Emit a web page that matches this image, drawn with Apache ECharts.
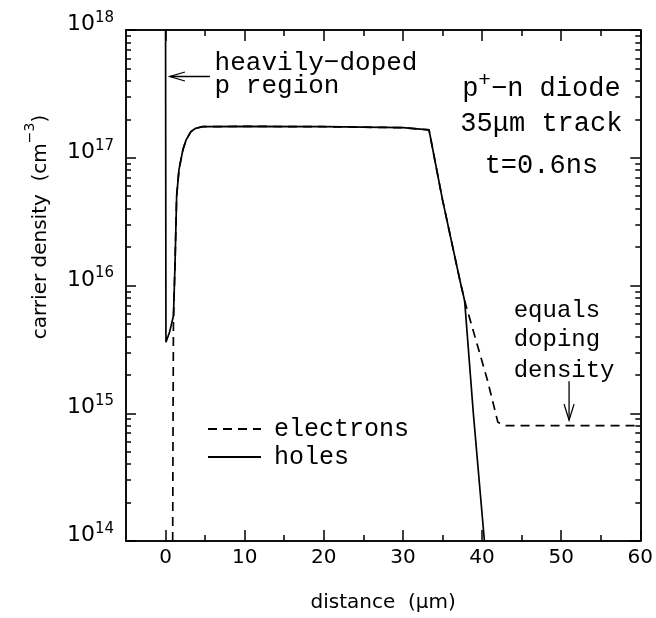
<!DOCTYPE html>
<html>
<head>
<meta charset="utf-8">
<script src="https://cdn.jsdelivr.net/npm/echarts@6/dist/echarts.min.js"></script>
<style>
  html, body { margin: 0; padding: 0; background: #fff; }
  #main { width: 656px; height: 618px; }
</style>
</head>
<body>
<div id="main"></div>
<script>
// holes (solid) - distance in um, density in cm^-3
var holeX = [0, 0.05, 0.5, 1.0, 1.2, 1.4, 1.7, 2.2, 2.6, 3.2, 3.8, 4.7, 10, 20, 30, 33.3, 35.0, 37.2, 37.8, 38.9, 40.3];
var holeY = [1e18, 3.6e15, 4.3e15, 5.8e15, 1.5e16, 5e16, 8.1e16, 1.16e17, 1.38e17, 1.6e17, 1.7e17, 1.75e17, 1.76e17, 1.75e17, 1.72e17, 1.65e17, 4.7e16, 1.1e16, 7.6e15, 1e15, 1e14];
// electrons (dashed)
var elecX = [0.9, 0.95, 1.0, 1.2, 1.4, 1.7, 2.2, 2.6, 3.2, 3.8, 4.7, 10, 20, 30, 33.3, 35.0, 37.2, 37.8, 40.7, 42.0, 43, 50, 60];
var elecY = [1e14, 1e15, 5.5e15, 1.5e16, 5e16, 8.1e16, 1.16e17, 1.38e17, 1.6e17, 1.7e17, 1.75e17, 1.76e17, 1.75e17, 1.72e17, 1.65e17, 4.7e16, 1.1e16, 7.6e15, 1.8e15, 8.5e14, 8e14, 8e14, 8e14];

// ticks
var xMajorTicks = [0, 10, 20, 30, 40, 50, 60];
var xMinorTicks = [5, 15, 25, 35, 45, 55];
var yDecades = [14, 15, 16, 17, 18];
var yMinorTicks = [];
yDecades.slice(0, -1).forEach(function (d) {
  for (var k = 2; k <= 9; k++) yMinorTicks.push(d + Math.log10(k));
});

var mono = '"Liberation Mono", monospace';
var sans = '"DejaVu Sans", sans-serif';

function zip(xs, ys) {
  return xs.map(function (x, i) { return [x, ys[i]]; });
}

var tickLine = { color: '#000', width: 1.5 };
var axLine = { show: true, onZero: false, lineStyle: { color: '#000', width: 1.5 } };

// x axis helper - ticks, labels optional
function xAx(pos, ticks, len, labels) {
  return {
    type: 'value', position: pos, min: -5, max: 60,
    axisLine: axLine,
    splitLine: { show: false },
    axisTick: { show: true, inside: true, length: len, customValues: ticks, lineStyle: tickLine },
    axisLabel: labels ? {
      show: true, customValues: ticks, margin: 7,
      color: '#000', fontFamily: sans, fontSize: 20
    } : { show: false },
    name: labels ? 'distance  (\u03bcm)' : '',
    nameLocation: 'middle', nameGap: 52,
    nameTextStyle: { color: '#000', fontFamily: sans, fontSize: 20 }
  };
}

// y minor ticks live on a plain value axis in log10 units
function yMinor(pos) {
  return {
    type: 'value', position: pos, min: 14, max: 18,
    axisLine: axLine,
    splitLine: { show: false },
    axisTick: { show: true, inside: true, length: 5, customValues: yMinorTicks, lineStyle: tickLine },
    axisLabel: { show: false }
  };
}

function yMajor(pos, labels) {
  return {
    type: 'log', logBase: 10, position: pos, min: 1e14, max: 1e18,
    axisLine: axLine,
    splitLine: { show: false },
    axisTick: { show: true, inside: true, length: 10, lineStyle: tickLine },
    axisLabel: labels ? {
      show: true, margin: 12, padding: [0, 0, 14, 0],
      formatter: function (v) {
        return '{b|10}{s|' + Math.round(Math.log10(v)) + '}';
      },
      rich: {
        b: { fontFamily: sans, fontSize: 22, color: '#000', lineHeight: 25, verticalAlign: 'bottom' },
        s: { fontFamily: sans, fontSize: 15, color: '#000', lineHeight: 25, verticalAlign: 'top' }
      }
    } : { show: false }
  };
}

var chart = echarts.init(document.getElementById('main'));

chart.setOption({
  animation: false,
  backgroundColor: '#fff',
  grid: { left: 126, right: 15, top: 30, bottom: 75 },
  xAxis: [
    xAx('bottom', xMajorTicks, 11, true),
    xAx('bottom', xMinorTicks, 6, false),
    xAx('top', xMajorTicks, 11, false),
    xAx('top', xMinorTicks, 6, false)
  ],
  yAxis: [
    yMajor('left', true),
    yMinor('left'),
    yMajor('right', false),
    yMinor('right')
  ],
  legend: {
    orient: 'vertical', left: 207, top: 415, padding: 0, itemGap: 0,
    itemWidth: 53, itemHeight: 14,
    itemStyle: { opacity: 0 },
    textStyle: { fontFamily: mono, fontSize: 25, color: '#000', lineHeight: 28, padding: [0, 0, 0, 8] },
    data: ['electrons', 'holes']
  },
  series: [
    {
      name: 'electrons', type: 'line', symbol: 'none', xAxisIndex: 0, yAxisIndex: 0,
      lineStyle: { color: '#000', width: 1.7, type: [9, 6] },
      itemStyle: { color: '#000' },
      data: zip(elecX, elecY)
    },
    {
      name: 'holes', type: 'line', symbol: 'none', xAxisIndex: 0, yAxisIndex: 0,
      lineStyle: { color: '#000', width: 1.7 },
      itemStyle: { color: '#000' },
      data: zip(holeX, holeY)
    }
  ]
});

// annotations, placed in data units
function px(x, y) {
  return chart.convertToPixel({ xAxisIndex: 0, yAxisIndex: 0 }, [x, y]);
}
function L(e) { return Math.pow(10, e); }

function label(x, y, text, align, size, rich) {
  var p = px(x, y);
  var st = {
    text: text, fill: '#000', font: size + 'px ' + mono,
    align: align, verticalAlign: 'middle', textAlign: align, textVerticalAlign: 'middle'
  };
  if (rich) st.rich = rich;
  return { type: 'text', x: p[0], y: p[1], style: st, z: 10 };
}

function arrow(tip, tail, head, half) {
  var a = px(tip[0], tip[1]);
  var b = px(tail[0], tail[1]);
  var dx = b[0] - a[0], dy = b[1] - a[1];
  var len = Math.sqrt(dx * dx + dy * dy);
  var ux = dx / len, uy = dy / len;
  var h1 = [a[0] + ux * head - uy * half, a[1] + uy * head + ux * half];
  var h2 = [a[0] + ux * head + uy * half, a[1] + uy * head - ux * half];
  var ln = { stroke: '#000', lineWidth: 1.3, fill: null };
  return [
    { type: 'polyline', shape: { points: [a, b] }, style: ln, z: 10 },
    { type: 'polyline', shape: { points: [h1, a, h2] }, style: ln, z: 10 }
  ];
}

var supRich = {
  a: { font: '27px ' + mono, fill: '#000', lineHeight: 32, verticalAlign: 'bottom' },
  s: { font: '21px ' + mono, fill: '#000', lineHeight: 32, verticalAlign: 'top' }
};

var graphics = [];
graphics.push(label(6.2, L(17.743), 'heavily\u2212doped', 'left', 26));
graphics.push(label(6.2, L(17.559), 'p region', 'left', 26));
graphics = graphics.concat(arrow([0.55, L(17.636)], [5.6, L(17.636)], 15, 4.5));

graphics.push(label(47.5, L(17.56), '{a|p}{s|+}{a|\u2212n diode}', 'center', 27, supRich));
graphics.push(label(47.5, L(17.267), '35\u03bcm track', 'center', 27));
graphics.push(label(47.5, L(16.94), 't=0.6ns', 'center', 27));

graphics.push(label(44.0, L(15.80), 'equals', 'left', 24));
graphics.push(label(44.0, L(15.575), 'doping', 'left', 24));
graphics.push(label(44.0, L(15.336), 'density', 'left', 24));
graphics = graphics.concat(arrow([51.0, L(14.946)], [51.0, L(15.25)], 16, 5));

// y axis title
graphics.push({
  type: 'text', x: 37, y: 227, rotation: Math.PI / 2, z: 10,
  style: {
    text: '{t|carrier density  (cm}{s|\u22123}{t|)}',
    align: 'center', verticalAlign: 'middle', textAlign: 'center', textVerticalAlign: 'middle',
    rich: {
      t: { fontFamily: sans, fontSize: 20, fill: '#000', lineHeight: 28, verticalAlign: 'bottom' },
      s: { fontFamily: sans, fontSize: 14, fill: '#000', lineHeight: 28, verticalAlign: 'top' }
    }
  }
});

chart.setOption({ graphic: graphics });
</script>
</body>
</html>
